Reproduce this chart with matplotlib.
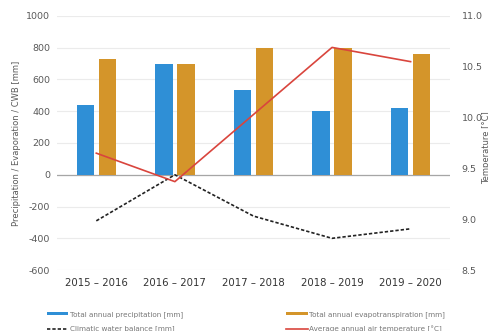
import matplotlib
matplotlib.use("Agg")
import matplotlib.pyplot as plt
import numpy as np

seasons = ["2015 – 2016", "2016 – 2017", "2017 – 2018", "2018 – 2019", "2019 – 2020"]
precipitation = [440, 700, 535, 400, 420]
evapotranspiration = [730, 700, 795, 800, 760]
water_balance = [-290, 0, -260, -400, -340]
temperature = [9.65, 9.37, 10.03, 10.69, 10.55]

blue = "#2f8fd6"
gold = "#d4952a"
red = "#d9453d"
grid_c = "#ebebeb"
text_c = "#595959"

plt.rcParams["font.family"] = ["DejaVu Sans"]
plt.rcParams["axes.unicode_minus"] = False

fig = plt.figure(figsize=(4.89, 3.31), dpi=100)
ax = fig.add_axes([0.1166, 0.184, 0.8034, 0.768])
ax2 = ax.twinx()

x = np.arange(len(seasons))
w = 0.22
off = 0.14
bars_p = ax.bar(x - off, precipitation, width=w, color=blue, zorder=2,
                label="Total annual precipitation [mm]")
bars_e = ax.bar(x + off, evapotranspiration, width=w, color=gold, zorder=2,
                label="Total annual evapotranspiration [mm]")
line_w, = ax.plot(x, water_balance, color="#222222", linestyle=(0, (2, 1.2)),
                  linewidth=1.2, zorder=3, label="Climatic water balance [mm]")

ax.set_xlim(-0.5, 4.5)
ax.set_ylim(-600, 1000)
ax.set_yticks(np.arange(-600, 1001, 200))
ax.grid(axis="y", color=grid_c, linewidth=0.8, zorder=0)
ax.axhline(0, color="#a6a6a6", linewidth=0.9, zorder=1)
ax.set_axisbelow(True)
ax.set_xticks(x)
ax.set_xticklabels(seasons, fontsize=7.3, color="#333333")
ax.tick_params(axis="x", length=0, pad=6)
ax.tick_params(axis="y", length=0, labelsize=6.8, labelcolor=text_c, pad=5)
for s in ax.spines.values():
    s.set_visible(False)
ax.set_ylabel("Precipitation / Evaporation / CWB [mm]", fontsize=6, color=text_c, labelpad=4)

line_t, = ax2.plot(x, temperature, color=red, linewidth=1.2, zorder=4,
                   label="Average annual air temperature [°C]")
ax2.set_ylim(8.5, 11.0)
ax2.set_yticks(np.arange(8.5, 11.01, 0.5))
ax2.tick_params(axis="y", length=0, labelsize=6.8, labelcolor=text_c, pad=8.5)
for s in ax2.spines.values():
    s.set_visible(False)
ax2.set_ylabel("Temperature [°C]", fontsize=6, color=text_c)
ax2.yaxis.set_label_coords(1.083, 0.48)
ax.set_zorder(ax2.get_zorder() - 1)
ax.patch.set_visible(False)

# columns: precipitation / water balance on the left, evapotranspiration / temperature on the right
handles = [bars_p, line_w, bars_e, line_t]
labels = [h.get_label() for h in handles]
leg = fig.legend(handles, labels, ncol=2, loc="upper left",
                 bbox_to_anchor=(0.082, 0.08), frameon=False,
                 fontsize=5.2, labelcolor="#777777", columnspacing=14.3,
                 handlelength=3.0, handleheight=0.4, handletextpad=0.2,
                 labelspacing=1.1)

fig.savefig("out.png", dpi=100)
